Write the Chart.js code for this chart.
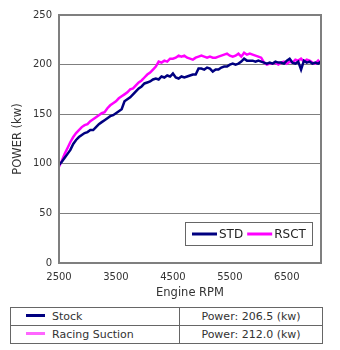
<!DOCTYPE html>
<html>
<head>
<meta charset="utf-8">
<script src="https://cdn.jsdelivr.net/npm/chart.js@4.4.0/dist/chart.umd.min.js"></script>
<style>
  body { margin: 0; background: #fff; font-family: "DejaVu Sans", Verdana, sans-serif; }
  #wrap { position: relative; width: 340px; height: 302px; }
  table { position: absolute; left: 10px; top: 307px; width: 313px; border-collapse: collapse; font-size: 11px; color: #333; }
  td { border: 1px solid #666; height: 17px; padding: 0; }
  td.name { width: 168px; }
  td.val { text-align: center; }
  .swatch { display: inline-block; width: 19px; height: 3px; margin: 0 7px 3px 15px; vertical-align: middle; }
</style>
</head>
<body>
<div id="wrap"><canvas id="powerChart"></canvas></div>
<table>
  <tr><td class="name"><span class="swatch" style="background:#000080"></span>Stock</td><td class="val">Power: 206.5 (kw)</td></tr>
  <tr><td class="name"><span class="swatch" style="background:#ff66ff"></span>Racing Suction</td><td class="val">Power: 212.0 (kw)</td></tr>
</table>
<script>
const rpm = [
  2500, 2550, 2600, 2650, 2700, 2750, 2800, 2850, 2900, 2950,
  3000, 3050, 3100, 3150, 3200, 3250, 3300, 3350, 3400, 3450,
  3500, 3550, 3600, 3650, 3700, 3750, 3800, 3850, 3900, 3950,
  4000, 4050, 4100, 4150, 4200, 4250, 4300, 4350, 4400, 4450,
  4500, 4550, 4600, 4650, 4700, 4750, 4800, 4850, 4900, 4950,
  5000, 5050, 5100, 5150, 5200, 5250, 5300, 5350, 5400, 5450,
  5500, 5550, 5600, 5650, 5700, 5750, 5800, 5850, 5900, 5950,
  6000, 6050, 6100, 6150, 6200, 6250, 6300, 6350, 6400, 6450,
  6500, 6550, 6600, 6650, 6700, 6750, 6800, 6850, 6900, 6950,
  7000, 7050, 7100
];
const stdKw = [
  99, 102, 106, 110, 114, 120, 124, 127, 129, 131,
  132, 134, 134, 137, 140, 142, 144, 146, 148, 149,
  151, 153, 155, 163, 165, 167, 170, 173, 176, 178,
  181, 182, 183, 185, 186, 185, 188, 187, 189, 188,
  191, 187, 186, 188, 187, 188, 189, 190, 190, 196,
  196, 195, 197, 196, 193, 195, 195, 197, 198, 198,
  200, 201, 200, 201, 203, 206, 204, 204, 204, 203,
  204, 203, 202, 201, 202, 201, 203, 202, 202, 201,
  204, 206, 202, 201, 203, 195, 204, 202, 203, 201,
  202, 201, 203
];
const rsctKw = [
  97, 103, 110, 116, 122, 127, 131, 134, 137, 139,
  140, 143, 145, 147, 149, 151, 152, 156, 159, 161,
  163, 166, 168, 170, 172, 175, 176, 179, 182, 184,
  187, 190, 192, 195, 198, 203, 202, 204, 203, 206,
  206, 207, 209, 208, 209, 207, 206, 205, 207, 208,
  209, 208, 207, 208, 207, 207, 208, 209, 210, 211,
  209, 208, 209, 211, 208, 212, 210, 211, 210, 209,
  208, 207, 202, 200, 201, 201, 202, 200, 202, 203,
  201, 203, 202, 205, 204, 206, 203, 205, 204, 202,
  201, 204, 201
];
const xTicks = [2500, 3500, 4500, 5500, 6500];
const seriesNames = ['STD', 'RSCT'];
const seriesColors = ['#000080', '#ff00ff'];

const toPoints = (ys) => rpm.map((x, i) => ({ x: x, y: ys[i] }));

// legend box drawn inside the plot area + frame around the plot
const innerLegend = {
  id: 'innerLegend',
  afterDatasetsDraw(chart) {
    const ctx = chart.ctx;
    const a = chart.chartArea;
    ctx.save();
    ctx.strokeStyle = '#7f7f7f';
    ctx.lineWidth = 2;
    ctx.strokeRect(a.left, a.top, a.right - a.left, a.bottom - a.top);

    const bx = 185, by = 222, bw = 127, bh = 23;
    ctx.fillStyle = '#fff';
    ctx.fillRect(bx, by, bw, bh);
    ctx.lineWidth = 1;
    ctx.strokeStyle = '#666';
    ctx.strokeRect(bx + 0.5, by + 0.5, bw, bh);
    ctx.font = '12px "DejaVu Sans"';
    ctx.textBaseline = 'middle';
    let x = bx + 7;
    const cy = by + 12;
    chart.data.datasets.forEach((ds) => {
      ctx.strokeStyle = ds.borderColor;
      ctx.lineWidth = 3;
      ctx.beginPath();
      ctx.moveTo(x, cy);
      ctx.lineTo(x + 25, cy);
      ctx.stroke();
      ctx.fillStyle = '#222';
      ctx.fillText(ds.label, x + 27, cy + 1);
      x += 27 + ctx.measureText(ds.label).width + 4;
    });
    ctx.restore();
  }
};

new Chart(document.getElementById('powerChart'), {
  type: 'line',
  data: {
    datasets: [
      { label: seriesNames[0], data: toPoints(stdKw), borderColor: seriesColors[0], borderWidth: 2.5, pointRadius: 0, tension: 0 },
      { label: seriesNames[1], data: toPoints(rsctKw), borderColor: seriesColors[1], borderWidth: 2.5, pointRadius: 0, tension: 0 }
    ]
  },
  options: {
    responsive: true,
    maintainAspectRatio: false,
    animation: false,
    layout: { padding: { top: 15, right: 19, left: 0, bottom: 0 } },
    plugins: { legend: { display: false }, tooltip: { enabled: false } },
    scales: {
      x: {
        type: 'linear',
        min: 2500,
        max: 7100,
        afterBuildTicks: (scale) => { scale.ticks = xTicks.map(v => ({ value: v })); },
        afterFit: (scale) => { scale.height = 39; },
        grid: { drawOnChartArea: false, drawTicks: false },
        border: { color: '#7f7f7f', width: 2 },
        ticks: { padding: 8, color: '#333', font: { family: 'DejaVu Sans', size: 10 }, callback: (v) => String(v) },
        title: { display: true, text: 'Engine RPM', color: '#333', padding: { top: 0, bottom: 2 }, font: { family: 'DejaVu Sans', size: 11.5 } }
      },
      y: {
        min: 0,
        max: 250,
        afterFit: (scale) => { scale.width = 59; },
        grid: { color: '#7f7f7f', drawTicks: false },
        border: { color: '#7f7f7f', width: 2 },
        ticks: { stepSize: 50, padding: 7, color: '#333', font: { family: 'DejaVu Sans', size: 10 } },
        title: { display: true, text: 'POWER (kw)', color: '#333', padding: { top: 11, bottom: 0 }, font: { family: 'DejaVu Sans', size: 11.5 } }
      }
    }
  },
  plugins: [innerLegend]
});
</script>
</body>
</html>
